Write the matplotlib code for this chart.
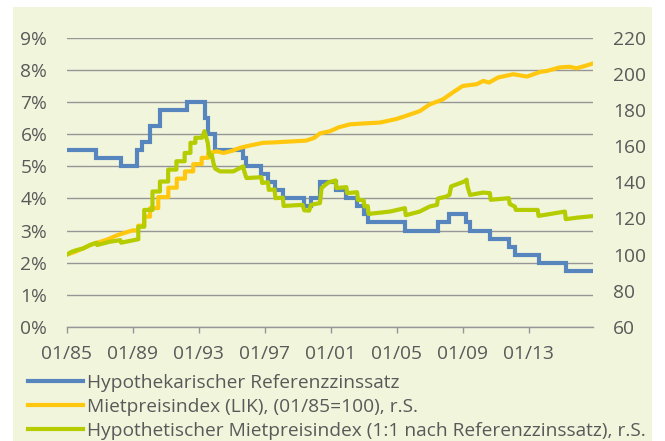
import matplotlib
matplotlib.use("Agg")
import matplotlib.pyplot as plt
from matplotlib.patches import Rectangle

# Hypothekarischer Referenzzinssatz: start of each rate level (decimal year), rate in %
rate_years = [1985.0, 1986.8, 1988.27, 1989.25, 1989.55, 1990.05, 1990.65, 1992.27,
              1993.38, 1993.55, 1994.0, 1995.7, 1995.85, 1996.8, 1997.2, 1997.6,
              1998.1, 1999.4, 1999.8, 2000.35, 2001.3, 2001.95, 2002.6, 2003.0,
              2003.25, 2005.5, 2007.5, 2008.2, 2009.2, 2009.45, 2010.65, 2011.8,
              2012.17, 2013.6, 2015.25, 2016.92]
rate_values = [5.5, 5.25, 5.0, 5.5, 5.75, 6.25, 6.75, 7.0,
               6.5, 6.0, 5.5, 5.25, 5.0, 4.75, 4.5, 4.25,
               4.0, 3.75, 4.0, 4.5, 4.25, 4.0, 3.75, 3.5,
               3.25, 3.0, 3.25, 3.5, 3.25, 3.0, 2.75, 2.5,
               2.25, 2.0, 1.75, 1.75]

# Mietpreisindex (LIK), 01/85 = 100
lik_years = [1985.0, 1985.5, 1986.0, 1986.5, 1987.0, 1987.5, 1988.0, 1988.5, 1989.0,
             1989.34, 1989.34, 1989.7, 1989.7, 1990.05, 1990.05, 1990.55, 1990.55,
             1991.16, 1991.16, 1991.67, 1991.67, 1992.17, 1992.17, 1992.67, 1992.67,
             1993.18, 1993.18, 1993.58, 1993.58,
             1994.1, 1994.5, 1995.0, 1995.5, 1996.1, 1996.9, 1997.5, 1998.9,
             1999.5, 2000.0, 2000.35, 2000.96, 2001.5, 2002.17, 2003.0, 2004.0, 2004.4,
             2005.0, 2005.6, 2006.4, 2007.0, 2007.8, 2008.4, 2009.0, 2009.85, 2010.25,
             2010.6, 2011.15, 2012.07, 2012.9, 2013.7, 2014.1, 2014.9, 2015.5, 2015.9,
             2016.5, 2016.92]
lik_values = [100, 101.5, 103.5, 105.5, 107, 108.5, 110.5, 112, 113.4,
              113.4, 116, 116, 121, 121, 125.7, 125.7, 131.8,
              131.8, 137, 137, 142, 142, 146, 146, 150,
              150, 153.5, 153.5, 156,
              157.1, 156.2, 157.3, 159, 160.3, 161.8, 162, 162.7,
              163, 164.5, 167, 168.2, 170.4, 172, 172.5, 173, 173.8,
              175, 176.8, 179.3, 183, 185.8, 189.6, 193.2, 194.2, 196,
              195.1, 197.9, 199.7, 198.4, 201, 201.5, 203.5, 203.8, 203,
              204.5, 205.7]

# Hypothetischer Mietpreisindex (1:1 nach Referenzzinssatz)
hyp_years = [1985.0, 1985.3, 1985.6, 1986.0, 1986.4, 1986.8, 1986.85, 1987.6, 1988.25,
             1988.3, 1988.9, 1989.34, 1989.34, 1989.7, 1989.7, 1990.2, 1990.2,
             1990.65, 1990.65, 1991.15, 1991.15, 1991.65, 1991.65, 1992.15, 1992.15,
             1992.5, 1992.5, 1992.8, 1992.8, 1993.2, 1993.35,
             1993.55, 1993.62, 1993.72, 1993.8, 1993.9, 1994.0, 1994.3,
             1995.1, 1995.7, 1995.75, 1995.85, 1995.9, 1996.8, 1996.85, 1997.2,
             1997.25, 1997.6, 1997.65, 1998.1, 1998.15, 1999.3, 1999.4, 1999.7,
             1999.8, 2000.35, 2000.45, 2000.86, 2001.3, 2001.35, 2001.95, 2002.0,
             2002.6, 2002.65, 2003.0, 2003.05, 2003.25, 2003.3, 2004.6, 2005.5,
             2005.55, 2006.4, 2007.0, 2007.45, 2007.5, 2008.0, 2008.2, 2008.3,
             2009.1, 2009.24, 2009.3, 2009.45, 2010.25, 2010.65, 2010.7, 2011.8,
             2011.85, 2012.17, 2012.22, 2013.55, 2013.6, 2015.2, 2015.25, 2016.0,
             2016.92]
hyp_values = [100, 101.6, 102.5, 103.4, 105.3, 106.6, 105.3, 107.1, 108,
              106.6, 107.7, 108.5, 115.4, 115.4, 124.7, 124.7, 134.9,
              134.9, 140.4, 140.4, 147, 147, 151.6, 151.6, 156.2,
              156.2, 161.8, 161.8, 164.6, 164.6, 168.2,
              161.8, 156.2, 154.3, 155, 150.4, 147.5, 146,
              146, 148.8, 146.5, 143.5, 142.3, 142.8, 139.6, 140,
              135.8, 136, 131.2, 131.5, 126.9, 127.5, 124.5, 124.3,
              127.5, 128.5, 136.8, 139.9, 141, 136.8, 137.3, 134,
              134.5, 130.3, 130, 126.6, 126.8, 122.5, 123.8, 125.7,
              121.8, 123.8, 126.6, 127.5, 131, 132.1, 133, 137.7,
              140.4, 141.4, 137.5, 133, 134.3, 134, 130.3, 131.2,
              128, 126.5, 124.7, 124.7, 121.4, 123.8, 119.6, 120.5,
              121.3]

tick_years = [1985, 1989, 1993, 1997, 2001, 2005, 2009, 2013]
tick_labels = ["01/85", "01/89", "01/93", "01/97", "01/01", "01/05", "01/09", "01/13"]
legend_labels = ["Hypothekarischer Referenzzinssatz",
                 "Mietpreisindex (LIK), (01/85=100), r.S.",
                 "Hypothetischer Mietpreisindex (1:1 nach Referenzzinssatz), r.S."]

BLUE = "#5786BE"
YELLOW = "#FFC80F"
GREEN = "#B4CC00"
GRID = "#969696"
TEXT = "#595959"
PANEL = "#F1F5DC"

plt.rcParams["font.family"] = ["Open Sans", "DejaVu Sans"]
plt.rcParams["font.size"] = 13.5

fig = plt.figure(figsize=(6.65, 4.41), dpi=100)
fig.patches.append(Rectangle((13 / 665, 0), 639 / 665, 434 / 441,
                             transform=fig.transFigure, facecolor=PANEL,
                             edgecolor="none", zorder=-10))

ax = fig.add_axes([66.7 / 665, 1 - 327 / 441, 526.6 / 665, 289.5 / 441])
ax.patch.set_visible(False)
ax2 = ax.twinx()
ax2.patch.set_visible(False)

l1, = ax.plot(rate_years, rate_values, drawstyle="steps-post", color=BLUE, lw=3,
              solid_joinstyle="miter", zorder=3)
l2, = ax2.plot(lik_years, lik_values, color=YELLOW, lw=3, zorder=3)
l3, = ax2.plot(hyp_years, hyp_values, color=GREEN, lw=3, zorder=4)

ax.set_xlim(1985.0, 2016.92)
ax.set_ylim(0, 9)
ax2.set_ylim(60, 220)
ax.set_yticks(range(0, 10))
ax.set_yticklabels([f"{v}%" for v in range(0, 10)])
ax2.set_yticks(range(60, 221, 20))
ax.set_xticks(tick_years)
ax.set_xticklabels(tick_labels)

ax.grid(axis="y", color=GRID, lw=1.0)
ax.set_axisbelow(True)
for a in (ax, ax2):
    for s in ("top", "left", "right"):
        a.spines[s].set_visible(False)
ax2.spines["bottom"].set_visible(False)
ax.spines["bottom"].set_color(GRID)
ax.spines["bottom"].set_linewidth(1.0)

ax.tick_params(axis="y", length=0, pad=14, colors=TEXT, labelsize=13.8)
ax2.tick_params(axis="y", length=0, pad=14, colors=TEXT, labelsize=13.8)
ax.tick_params(axis="x", length=4, width=1.0, color=GRID, pad=9, labelcolor=TEXT,
               labelsize=13.8)

fig.legend([l1, l2, l3], legend_labels, loc="upper left",
           bbox_to_anchor=(28 / 665, 1 - 374 / 441), frameon=False,
           fontsize=13.8, labelcolor=TEXT, handlelength=2.85, handletextpad=0.25,
           labelspacing=0.3, borderaxespad=0, borderpad=0)

fig.savefig("out.png", dpi=100)
